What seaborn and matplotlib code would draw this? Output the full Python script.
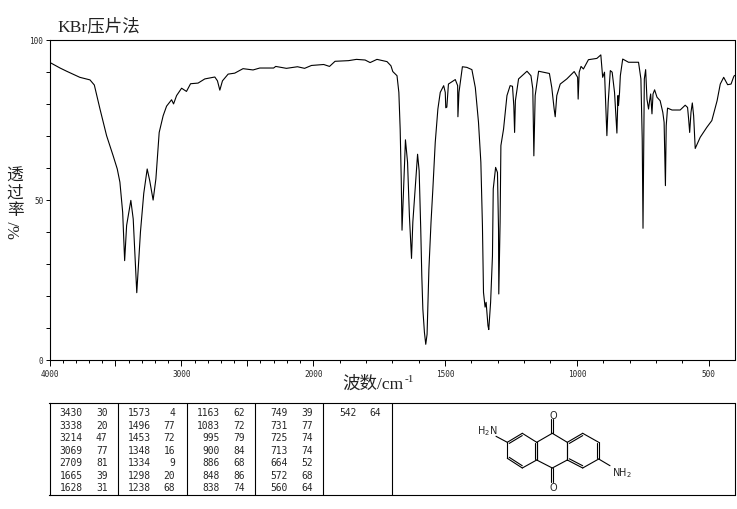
import matplotlib
matplotlib.use('Agg')
import matplotlib.pyplot as plt
import numpy as np
import seaborn as sns

# spectrum
wavenumber = [4000, 3920, 3870, 3770, 3693, 3660, 3617, 3567, 3517, 3486, 3466, 3445, 3430, 3415, 3383, 3365, 3338,
              3310, 3285, 3259, 3240, 3214, 3193, 3168, 3138, 3112, 3074, 3059, 3036, 2998, 2961, 2930, 2873, 2822,
              2746, 2726, 2708, 2688, 2645, 2595, 2532, 2456, 2405, 2300, 2284, 2203, 2119, 2065, 2013, 1960, 1938,
              1917, 1866, 1836, 1803, 1784, 1758, 1720, 1705, 1698, 1682, 1675, 1670, 1666, 1663, 1650, 1642, 1635,
              1627, 1622, 1604, 1598, 1592, 1588, 1584, 1578, 1573, 1568, 1561, 1553, 1546, 1537, 1527, 1518, 1505,
              1499, 1497, 1493, 1487, 1461, 1452, 1451, 1447, 1434, 1417, 1398, 1385, 1373, 1364, 1358, 1354, 1348,
              1344, 1337, 1334, 1327, 1320, 1317, 1308, 1301, 1297, 1296, 1291, 1288, 1278, 1265, 1253, 1244, 1239,
              1236, 1233, 1221, 1189, 1174, 1167, 1163, 1158, 1145, 1104, 1095, 1086, 1082, 1076, 1063, 1038, 1010,
              997, 995, 991, 984, 975, 956, 924, 909, 902, 895, 890, 886, 881, 873, 866, 857, 852, 848, 844, 842, 838,
              835, 826, 804, 766, 757, 752, 749, 744, 739, 734, 728, 724, 720, 715, 711, 705, 696, 684, 674, 669, 664,
              661, 656, 639, 608, 589, 580, 576, 572, 567, 562, 557, 551, 532, 507, 488, 468, 456, 443, 428, 415, 405,
              402]
transmittance = [92.9, 91.1, 90.1, 88.2, 87.4, 85.8, 78.3, 70.0, 63.7, 59.6, 55.5, 46.1, 31.0, 42.0, 49.8, 44.0, 21.0,
                 40.0, 52.0, 59.6, 56.0, 49.9, 56.5, 71.0, 76.2, 79.2, 81.2, 79.9, 82.5, 84.8, 83.8, 86.2, 86.4, 87.7,
                 88.3, 87.1, 84.2, 87.1, 89.2, 89.5, 90.9, 90.5, 91.1, 91.1, 91.6, 91.0, 91.5, 91.0, 91.9, 92.2, 91.6,
                 93.2, 93.4, 93.8, 93.6, 92.8, 93.8, 93.1, 91.8, 90.0, 88.7, 83.5, 72.0, 56.5, 40.5, 68.7, 61.7, 45.0,
                 31.7, 43.0, 64.2, 59.0, 40.9, 26.3, 15.9, 8.6, 4.9, 8.0, 28.4, 43.0, 53.4, 67.9, 78.3, 83.5, 85.6,
                 83.5, 78.7, 78.9, 86.1, 87.5, 85.6, 75.9, 83.5, 91.5, 91.3, 90.6, 85.0, 74.2, 61.7, 41.9, 21.1, 16.5,
                 18.0, 10.7, 9.5, 18.0, 32.5, 53.4, 60.1, 58.5, 40.9, 20.6, 43.0, 66.9, 72.0, 82.5, 85.6, 85.4, 79.3,
                 71.0, 80.9, 87.7, 90.1, 88.7, 84.6, 63.7, 82.5, 90.1, 89.4, 85.0, 78.3, 75.9, 82.5, 86.1, 87.7, 90.0,
                 88.2, 81.4, 89.8, 91.6, 90.8, 93.7, 94.1, 95.2, 88.2, 89.8, 78.3, 70.0, 80.4, 90.3, 89.8, 83.5, 76.2,
                 70.8, 82.5, 79.4, 83.5, 88.7, 93.9, 92.9, 92.9, 87.7, 69.0, 41.1, 87.7, 90.6, 81.4, 78.3, 80.9, 83.0,
                 76.8, 83.0, 84.3, 82.0, 80.9, 77.3, 74.2, 54.4, 73.1, 78.6, 78.0, 78.0, 79.5, 78.8, 75.2, 71.0, 77.3,
                 80.2, 76.2, 66.0, 69.5, 72.6, 74.7, 80.9, 86.1, 88.2, 85.9, 86.1, 88.4, 88.8]

# peak table
peak_wn = [[3430, 3338, 3214, 3069, 2709, 1665, 1628],
           [1573, 1496, 1453, 1348, 1334, 1298, 1238],
           [1163, 1083, 995, 900, 886, 848, 838],
           [749, 731, 725, 713, 664, 572, 560],
           [542]]
peak_t = [[30, 20, 47, 77, 81, 39, 31],
          [4, 77, 72, 16, 9, 20, 68],
          [62, 72, 79, 84, 68, 86, 74],
          [39, 77, 74, 74, 52, 68, 64],
          [64]]

x_ticks = [4000, 3500, 3000, 2500, 2000, 1500, 1000, 500]
x_labels = ['4000', '', '3000', '', '2000', '1500', '1000', '500']
y_ticks = list(range(0, 101, 10))
y_labels = ['0', '', '', '', '', '50', '', '', '', '', '100']
ylabel_chars = ['透', '过', '率']

# layout of the lower box, in picture pixels
col_lines = [118.4, 186.7, 255.3, 323.4, 392.4]
wn_right = [82.5, 150.8, 219.4, 287.4, 356.8]
t_right = [107.4, 175.2, 244.4, 312.4, 381.2]
row_y = [413.3, 425.8, 438.3, 450.8, 463.2, 475.7, 488.1]

# anthraquinone drawing, in picture pixels
ring_left = [(507.3, 443.3), (522.3, 434.3), (536.7, 443.3), (536.7, 461.0), (522.3, 469.0), (507.3, 459.3)]
ring_mid = [(536.7, 443.3), (552.3, 434.3), (567.3, 443.3), (567.3, 461.0), (552.3, 469.0), (536.7, 461.0)]
ring_right = [(567.3, 443.3), (582.7, 434.3), (598.7, 443.3), (598.7, 460.0), (582.7, 469.0), (567.3, 461.0)]
left_doubles = [0, 2, 4]
right_doubles = [0, 2, 4]


def axis_forward(w):
    # the axis runs at half scale above 2000 cm-1
    w = np.asarray(w, dtype=float)
    return np.where(w >= 2000, 2000 + (w - 2000) / 2, w)


def axis_inverse(p):
    p = np.asarray(p, dtype=float)
    return np.where(p >= 2000, 2000 + (p - 2000) * 2, p)


def draw_ring(ax, pts, doubles):
    pts = np.array(pts)
    center = pts.mean(axis=0)
    for i in range(6):
        a, b = pts[i], pts[(i + 1) % 6]
        ax.plot([a[0], b[0]], [a[1], b[1]], color='k', lw=0.8)
        if i in doubles:
            a2 = a + (center - a) * 0.13
            b2 = b + (center - b) * 0.13
            ax.plot([a2[0], b2[0]], [a2[1], b2[1]], color='k', lw=0.8)


sns.set_style('ticks')
plt.rcParams['font.family'] = ['Noto Sans CJK SC', 'DejaVu Sans']

fig = plt.figure(figsize=(7.37, 5.10), dpi=100)
W, H = 737, 510

ax = fig.add_axes([49.5 / W, (H - 361) / H, 685 / W, 320.5 / H])
sns.lineplot(x=wavenumber, y=transmittance, ax=ax, sort=False, estimator=None, color='k', linewidth=0.8)
ax.set_xscale('function', functions=(axis_forward, axis_inverse))
ax.set_xticks(x_ticks)
ax.set_xticklabels(x_labels, family='DejaVu Sans Mono', fontsize=5.6)
ax.set_xticks(np.arange(500, 4000, 100), minor=True)
ax.set_yticks(y_ticks)
ax.set_yticklabels(y_labels, family='DejaVu Sans Mono', fontsize=5.6)
ax.set_xlim(4000, 402)
ax.set_ylim(0, 100)
ax.tick_params(axis='x', which='major', length=4, width=0.7, pad=2.5, color='k')
ax.tick_params(axis='x', which='minor', length=2, width=0.7, color='k')
ax.tick_params(axis='y', which='major', length=3, width=0.7, pad=1.5, color='k')
ax.set_xlabel('')
ax.set_ylabel('')
for s in ax.spines.values():
    s.set_visible(True)
    s.set_linewidth(0.8)
    s.set_color('k')

serif_cjk = ['Liberation Serif', 'Noto Sans CJK SC']
fig.text(57 / W, 1 - 27 / H, 'KBr压片法', family=serif_cjk, fontsize=12.6, va='center', color='#222222')
fig.text(342 / W, 1 - 385 / H, '波数/cm', family=serif_cjk, fontsize=12.6, va='center', color='#222222')
fig.text(405 / W, 1 - 380 / H, '-1', family='Liberation Serif', fontsize=8, va='center', color='#222222')
for i, ch in enumerate(ylabel_chars):
    fig.text(15 / W, 1 - (176 + i * 17.5) / H, ch, fontsize=12, ha='center', va='center', color='#222222')
fig.text(15 / W, 1 - 230 / H, '%/', family='Liberation Serif', fontsize=12, rotation=90, ha='center', va='center',
         color='#222222')

# lower box, drawn in picture pixels
box = fig.add_axes([49.5 / W, (H - 496) / H, 685 / W, 91.7 / H])
box.set_xlim(49.5, 734.5)
box.set_ylim(496, 404.3)
box.set_xticks([])
box.set_yticks([])
for s in box.spines.values():
    s.set_visible(True)
    s.set_linewidth(0.8)
    s.set_color('k')
for x in col_lines:
    box.axvline(x, color='k', lw=0.8)

for c in range(len(peak_wn)):
    for r in range(len(peak_wn[c])):
        box.text(wn_right[c], row_y[r], str(peak_wn[c][r]), family='DejaVu Sans Mono', fontsize=6.9,
                 ha='right', va='center')
        box.text(t_right[c], row_y[r], str(peak_t[c][r]), family='DejaVu Sans Mono', fontsize=6.9,
                 ha='right', va='center')

draw_ring(box, ring_left, left_doubles)
draw_ring(box, ring_mid, [])
draw_ring(box, ring_right, right_doubles)
# the shared edges of the middle ring are double on the outer rings already
for dx in (-0.8, 0.8):
    box.plot([552.3 + dx, 552.3 + dx], [434.3, 420.3], color='k', lw=0.8)
    box.plot([552.3 + dx, 552.3 + dx], [469.0, 483.3], color='k', lw=0.8)
box.plot([507.3, 496.0], [443.3, 437.3], color='k', lw=0.8)
box.plot([598.7, 610.0], [460.0, 466.7], color='k', lw=0.8)
mono = dict(family='DejaVu Sans', fontsize=7, ha='center', va='center')
box.text(553.7, 415.7, 'O', **mono)
box.text(553.7, 487.7, 'O', **mono)
box.text(487.0, 431.0, 'H$_2$N', **mono)
box.text(621.5, 473.3, 'NH$_2$', **mono)

plt.savefig('out.png', dpi=100)
plt.close()
